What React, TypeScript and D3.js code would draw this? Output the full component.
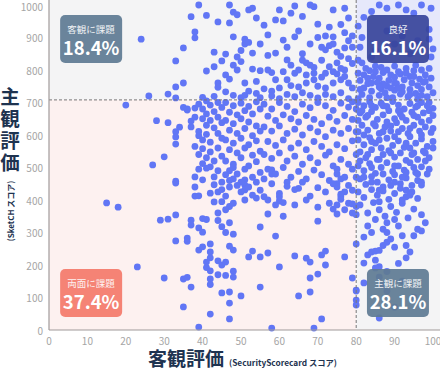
import React from 'react';
import * as d3 from 'd3';

// [客観評価, 主観評価] pairs
const topLeftPoints = [
  [24,895],[26,720],[31,726],[33,828],[35,868],[35,760],[33,748],[33,714],[37,964],[39,1000],[41,968],[38,917],[38,899],
  [41,797],[43,855],[43,810],[44,948],[44,760],[40,716],[43,719],[47,1000],[47,945],[48,978],[49,970],[48,902],[45,828],
  [46,849],[46,785],[47,772],[44,747],[46,733],[48,722],[50,715],[49,840],[50,826],[48,815],[49,800],[50,860],[51,880],
  [51,895],[52,885],[53,990],[52,985],[54,960],[59,954],[61,951],[64,997],[63,975],[68,1000],[69,995],[74,985],[70,941],
  [73,932],[74,902],[72,905],[65,920],[64,902],[61,892],[53,852],[59,852],[57,845],[62,831],[66,830],[67,822],[68,815],
  [69,808],[71,870],[72,862],[73,875],[74,880],[75,855],[77,868],[53,803],[55,798],[57,800],[58,792],[61,795],[64,790],
  [65,800],[67,785],[69,790],[71,778],[72,790],[74,795],[75,788],[77,780],[76,770],[74,760],[72,745],[70,750],[67,760],
  [65,748],[63,752],[60,745],[58,735],[56,742],[54,728],[52,735],[51,722],[55,715],[58,720],[60,712],[62,725],[64,718],
  [66,730],[68,722],[70,714],[72,725],[74,718],[76,730],[78,712],[79,745],[78,760],[77,800],[79,820],[78,835],[76,842],
  [78,890],[79,905],[77,915],[76,940],[78,960],[77,990],[66,965],[60,985],[56,938],[57,908],[62,870],[55,880],[68,880],
  [70,900],[66,850],[63,815],[59,770],[54,765],[51,760],[62,770],[69,770],[73,810],[75,822],[79,870],[71,830],[76,805],
];

const topRightPoints = [
  [80.5,712],[81.5,725],[82,745],[81,768],[80.5,790],[82.5,805],[81.5,822],[83.5,715],[84,735],[83,758],[84.5,780],
  [83.5,798],[85,812],[86,722],[86.5,742],[85.5,762],[86,775],[87,792],[86.5,808],[87.5,730],[88,750],[88.5,768],
  [89,785],[88,800],[89.5,715],[90,738],[90.5,758],[90,778],[91,795],[90,812],[91.5,726],[92,748],[92.5,770],
  [91.5,788],[93,805],[93.5,718],[94,740],[94.5,760],[94,780],[95,798],[95.5,728],[96,752],[96.5,772],[95.5,815],
  [97,740],[97.5,762],[98,785],[97,800],[98.5,718],[99,748],[99.5,775],[99,805],[100,730],[84,760],[87,757],[92,733],
  [96,710],[85,795],[90,760],[93,790],[82,785],[88,715],[94,725],[98,765],[81,740],[86,748],[91,744],[95,780],[89,745],
  [83,775],[97,722],[80.5,830],[84,840],[99.5,840],[100,865],[99,895],[99,925],[81,870],[81.5,900],[80.5,935],[82,962],
  [84,980],[86,1000],[88,990],[91,1000],[93,985],[97,1000],[95,975],[99.5,990],[85,860],[90,880],[94,850],[88,920],
  [92,905],[96,890],
];

const bottomLeftPoints = [
  [20,692],[28,644],[31,638],[27,508],[30,533],[33,610],[34,624],[33,594],[33,572],[35,685],[36,677],[37,625],[37,643],
  [38,655],[39,611],[36,680],[38,683],[41,705],[15,391],[18,378],[23,194],[30,160],[29,338],[31,341],[33,354],[33,274],
  [36,283],[36,273],[37,338],[37,323],[39,314],[40,301],[40,343],[41,340],[38,412],[39,413],[42,421],[43,394],[44,360],
  [44,337],[39,246],[40,256],[42,265],[42,240],[41,209],[42,182],[42,157],[35,157],[36,162],[37,132],[35,71],[42,49],
  [39,9],[44,213],[58,6],[69,6],[47,34],[71,34],[47,83],[47,117],[50,105],[55,132],[65,105],[68,117],[68,160],[70,172],
  [72,200],[71,231],[72,243],[67,221],[68,209],[64,228],[60,194],[55,225],[57,237],[53,243],[52,225],[48,181],[48,246],
  [47,258],[46,209],[77,225],[79,160],[80,120],[80,92],[80,265],[59,289],[55,317],[61,350],[57,357],[60,397],[59,385],
  [64,385],[70,335],[48,295],[54,406],[33,458],[33,452],[45,114],[44,170],[46,168],[48,163],[46,300],[45,318],[47,330],
  [45,200],[42,222],[41,192],[42,140],[51,462],[51,446],[51,431],[58,480],[58,493],[62,455],[65,436],[60,410],[72,425],
  [73,390],[74,372],[75,357],[78,390],[75,385],[77,370],[79,360],[80,355],[80,380],[75,480],[76,465],[75,450],[75,440],
  [77,425],[76,410],
  [39,695],[40,680],[42,692],[44,700],[41,665],[43,672],[45,685],[40,650],[42,645],[44,655],[41,630],[43,622],[45,638],
  [39,598],[41,602],[44,605],[40,585],[42,578],[45,590],[38,565],[40,558],[42,548],[44,560],[39,540],[41,530],[43,520],
  [45,535],[40,512],[42,502],[44,490],[39,495],[41,498],[38,471],[40,462],[43,471],[43,447],[38,440],[45,455],[44,425],
  [46,412],[45,395],[47,380],[46,370],[45,432],[47,440],
  [46,700],[48,690],[50,698],[52,688],[54,702],[47,670],[49,662],[51,675],[53,665],[55,680],[46,645],[48,635],[50,650],
  [52,640],[54,628],[47,615],[49,605],[51,620],[53,598],[55,612],[46,585],[48,575],[50,590],[52,570],[54,582],[47,555],
  [49,545],[51,560],[53,538],[55,550],[46,520],[48,510],[50,530],[52,505],[54,518],[47,490],[49,480],[51,495],[53,470],
  [55,485],[46,478],[48,465],[50,455],[48,500],[47,460],[49,445],[52,440],[54,455],[50,425],[53,415],[55,430],[48,390],
  [51,400],[56,410],
  [56,695],[58,680],[60,700],[62,688],[64,672],[66,695],[68,684],[70,700],[72,690],[74,676],[76,698],[78,686],[79,702],
  [57,658],[59,645],[61,662],[63,650],[65,640],[67,660],[69,648],[71,635],[73,655],[75,642],[77,660],[79,648],
  [56,625],[58,612],[60,628],[62,605],[64,618],[66,600],[68,622],[70,610],[72,595],[74,615],[76,605],[78,620],
  [57,580],[59,568],[61,585],[63,560],[65,575],[67,555],[69,580],[71,565],[73,548],[75,570],[77,558],[79,582],
  [56,540],[58,528],[60,545],[62,520],[64,535],[66,510],[68,530],[70,515],[72,538],[74,505],[76,525],[78,510],
  [57,495],[59,480],[61,500],[63,470],[65,488],[67,465],[69,492],[71,478],[73,460],[75,495],[77,470],[79,495],
  [58,450],[62,442],[66,455],[70,438],[74,450],[78,445],[60,420],[64,432],[68,412],[76,418],[79,430],[56,465],
  [80,470],[80,540],[80,610],[80,680],[57,400],[61,392],[67,400],[70,378],[76,402],[79,388],
];

const bottomRightPoints = [
  [80.5,700],[82,690],[83.5,702],[85,685],[86.5,698],[88,688],[89.5,703],[91,692],[92.5,680],[94,697],[95.5,686],
  [97,700],[98.5,690],[100,682],[81,668],[82.5,655],[84,672],[85.5,648],[87,662],[88.5,675],[90,650],[91.5,665],
  [93,645],[94.5,670],[96,655],[97.5,668],[99,645],[100,660],[80.5,645],[81.5,630],[83,615],[84.5,635],[86,605],
  [87.5,625],[89,612],[90.5,638],[92,620],[93.5,605],[95,630],[96.5,612],[98,625],[99.5,608],[80.5,610],[80.5,585],
  [82,570],[83.5,592],[85,575],[86.5,560],[88,590],[89.5,568],[91,582],[92.5,562],[94,595],[95.5,575],[97,588],
  [98.5,565],[100,580],[81,548],[82.5,530],[84,555],[85.5,525],[87,540],[88.5,552],[90,532],[91.5,545],[93,522],
  [94.5,540],[96,525],[97.5,550],[99,530],[80.5,505],[82,490],[83.5,512],[85,482],[86.5,500],[88,515],[89.5,488],
  [91,505],[92.5,492],[94,515],[95.5,485],[97,502],[98.5,480],[81,465],[82.5,448],[84,472],[85.5,455],[87,440],
  [88.5,462],[90,478],[91.5,450],[93,468],[94.5,445],[96,460],[97,446],[80.5,425],[82,408],[84,432],[85.5,415],
  [87,428],[88.5,402],[90,420],[91.5,436],[93,410],[94.5,425],[96,405],[81,385],[83,360],[84.5,392],[86,370],
  [87.5,350],[89,380],[90.5,362],[92,390],[93.5,345],[95,372],[96,310],[97,355],[85,340],[88,330],[91,320],
  [81.5,675],[84,690],[87,610],[90,595],[93,575],[95,545],[98,520],[83,540],[86,585],[89,628],[92,655],[96,690],
  [99,700],[82,600],[85,628],[88,640],[91,610],[94,620],[97,640],[100,620],[81,520],[84,500],[87,480],[90,455],
  [93,430],[96,480],[99,495],[82,470],[86,430],[89,445],[92,470],[95,500],[98,545],[100,560],[83,660],[87,690],
  [91,675],[95,660],[99,675],[84,580],[89,545],[94,560],[97,600],[86,525],[90,505],[93,485],[92,400],[86,395],
  [90,340],[88,300],[87,310],[94,415],[97,455],[84,455],
  [82,286],[83,231],[84,240],[85,215],[86,195],[82,206],[86,245],[87,260],[88,270],[90,255],[89,280],[93,222],
  [94,240],[97,305],[86,37],[82,145],[86,163],[87,138],[85,191],[85,243],[93,260],[95,290],[84,300],[92,290],
  [98,330],[83,320],[91,205],[88,180],[80,77],[80,123],[88,120],[92,150],[95,100],[90,70],
];

const xTicks = [0, 10, 20, 30, 40, 50, 60, 70, 80, 90, 100];
const yTicks = [0, 100, 200, 300, 400, 500, 600, 700, 800, 900, 1000];

const xSplit = 80;
const ySplit = 708;

const quadrantLabels = ['客観に課題', '良好', '両面に課題', '主観に課題'];
const quadrantShares = ['18.4%', '16.1%', '37.4%', '28.1%'];

const font = '"Noto Sans CJK JP", "Noto Sans", sans-serif';

export default function App() {
  const x = d3.scaleLinear().domain([0, 100]).range([49, 433]);
  const y = d3.scaleLinear().domain([0, 1000]).range([330, 5]);

  const points = [...topLeftPoints, ...topRightPoints, ...bottomLeftPoints, ...bottomRightPoints];

  const right = 440;
  const top = 0;

  // quadrant backgrounds
  const bgs = [
    { x0: x(0), x1: x(xSplit), y0: top, y1: y(ySplit), fill: '#f4f4f5' },
    { x0: x(xSplit), x1: right, y0: top, y1: y(ySplit), fill: '#e6e8fb' },
    { x0: x(0), x1: x(xSplit), y0: y(ySplit), y1: y(0), fill: '#fdf1f0' },
    { x0: x(xSplit), x1: right, y0: y(ySplit), y1: y(0), fill: '#f4f4f5' },
  ];

  const boxColors = ['#5f7b93', '#38459b', '#f47b6c', '#5f7b93'];
  const boxW = 62;
  const boxH = 48;
  const boxPos = [
    [x(2.9), 15],
    [x(82.8), 15],
    [x(2.9), 269],
    [x(82.8), 269],
  ];

  return (
    <svg
      width={440}
      height={369}
      style={{ position: 'absolute', left: 0, top: 0, fontFamily: font }}
    >
      {bgs.map((b, i) => (
        <rect key={i} x={b.x0} y={b.y0} width={b.x1 - b.x0} height={b.y1 - b.y0} fill={b.fill} />
      ))}

      {points.map((p, i) => (
        <circle key={i} cx={x(p[0])} cy={y(p[1])} r={3.4} fill="#6176f5" />
      ))}

      <line x1={x(xSplit)} x2={x(xSplit)} y1={top} y2={y(0)} stroke="#777" strokeWidth={1} strokeDasharray="3,2" />
      <line x1={x(0)} x2={right} y1={y(ySplit)} y2={y(ySplit)} stroke="#777" strokeWidth={1} strokeDasharray="3,2" />

      {/* axes */}
      <line x1={x(0)} x2={x(0)} y1={top} y2={y(0)} stroke="#a09a9a" strokeWidth={1.2} />
      <line x1={x(0)} x2={right} y1={y(0)} y2={y(0)} stroke="#a09a9a" strokeWidth={1.2} />

      {xTicks.map((t) => (
        <text key={t} x={x(t)} y={340} textAnchor="middle" dominantBaseline="central" fontSize={10} fill="#a5a5a5">
          {t}
        </text>
      ))}
      {yTicks.map((t) => (
        <text key={t} x={43} y={Math.max(y(t), 6)} textAnchor="end" dominantBaseline="central" fontSize={10} fill="#a5a5a5">
          {t}
        </text>
      ))}

      {quadrantLabels.map((label, i) => (
        <g key={label} transform={`translate(${boxPos[i][0]},${boxPos[i][1]})`}>
          <rect width={boxW} height={boxH} rx={5} fill={boxColors[i]} opacity={0.93} />
          <text x={boxW / 2} y={14} textAnchor="middle" dominantBaseline="central" fontSize={9.5} fill="#fff" opacity={0.9}>
            {label}
          </text>
          <text x={boxW / 2} y={32} textAnchor="middle" dominantBaseline="central" fontSize={18.5} fontWeight={700} fill="#fff">
            {quadrantShares[i]}
          </text>
        </g>
      ))}

      {/* y title, one character per line */}
      {['主', '観', '評', '価'].map((c, i) => (
        <text key={c} x={10} y={95 + i * 22} textAnchor="middle" dominantBaseline="central" fontSize={19.5} fontWeight={700} fill="#1e3350">
          {c}
        </text>
      ))}
      <text
        transform="translate(10,211) rotate(-90)"
        textAnchor="middle"
        dominantBaseline="central"
        fontSize={8}
        fontWeight={700}
        fill="#1e3350"
      >
        (SketCH スコア)
      </text>

      {/* x title */}
      <text x={148} y={357.5} dominantBaseline="central" fontSize={19} fontWeight={700} fill="#1e3350">
        客観評価
      </text>
      <text x={229} y={361.5} dominantBaseline="central" fontSize={8.3} fontWeight={700} fill="#1e3350">
        (SecurityScorecard スコア)
      </text>
    </svg>
  );
}
